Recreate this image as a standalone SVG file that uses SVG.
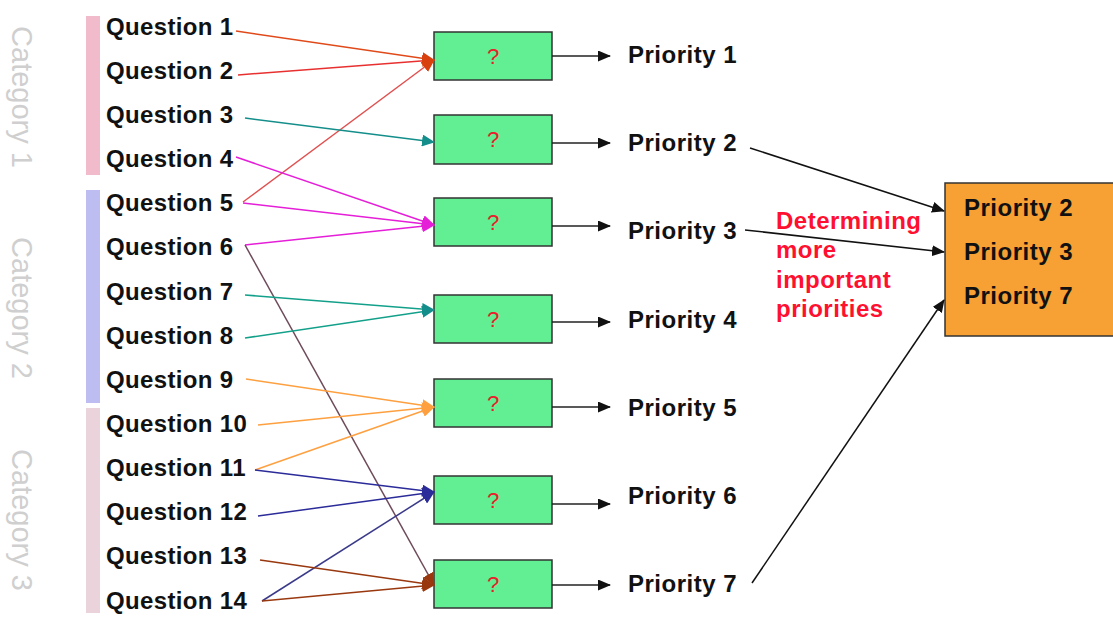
<svg xmlns="http://www.w3.org/2000/svg" width="1113" height="618" viewBox="0 0 1113 618">
<style>
.q{font-family:"Liberation Sans",Arial,sans-serif;font-size:24px;font-weight:bold;fill:#111;letter-spacing:0.35px}
.p{font-family:"Liberation Sans",Arial,sans-serif;font-size:24px;font-weight:bold;fill:#111;letter-spacing:0.5px}
.cat{font-family:"Liberation Sans",Arial,sans-serif;font-size:29px;fill:#cfcfcf}
.box{fill:#62EE93;stroke:#333;stroke-width:1.5}
.qm{font-family:"Liberation Sans",Arial,sans-serif;font-size:22px;fill:#e8202a;text-anchor:middle}
.red{font-family:"Liberation Sans",Arial,sans-serif;font-size:24px;font-weight:bold;fill:#ff1030;letter-spacing:0.5px}
.c{fill:none;stroke-width:1.5}
</style>
<defs>
<marker id="mR" markerWidth="13" markerHeight="12" refX="12" refY="6" orient="auto" markerUnits="userSpaceOnUse"><path d="M0,0 L13,6 L0,12 z" fill="#D8400F"/></marker>
<marker id="mT" markerWidth="13" markerHeight="12" refX="12" refY="6" orient="auto" markerUnits="userSpaceOnUse"><path d="M0,0 L13,6 L0,12 z" fill="#138E8A"/></marker>
<marker id="mM" markerWidth="13" markerHeight="12" refX="12" refY="6" orient="auto" markerUnits="userSpaceOnUse"><path d="M0,0 L13,6 L0,12 z" fill="#E51ED8"/></marker>
<marker id="mO" markerWidth="13" markerHeight="12" refX="12" refY="6" orient="auto" markerUnits="userSpaceOnUse"><path d="M0,0 L13,6 L0,12 z" fill="#FFA040"/></marker>
<marker id="mB" markerWidth="13" markerHeight="12" refX="12" refY="6" orient="auto" markerUnits="userSpaceOnUse"><path d="M0,0 L13,6 L0,12 z" fill="#2B2B9A"/></marker>
<marker id="mBr" markerWidth="13" markerHeight="12" refX="12" refY="6" orient="auto" markerUnits="userSpaceOnUse"><path d="M0,0 L13,6 L0,12 z" fill="#99380F"/></marker>
<marker id="mK" markerWidth="13" markerHeight="11" refX="12" refY="5.5" orient="auto" markerUnits="userSpaceOnUse"><path d="M0,0 L13,5.5 L0,11 z" fill="#111"/></marker>
</defs>
<rect width="1113" height="618" fill="#fff"/>

<g id="categories">
<rect x="86" y="16" width="14" height="159" fill="#F2BBCB"/>
<rect x="86" y="190" width="14" height="213" fill="#BDBDF2"/>
<rect x="86" y="408" width="14" height="205" fill="#EAD3DA"/>
<text class="cat" transform="translate(12,97) rotate(90)" text-anchor="middle">Category 1</text>
<text class="cat" transform="translate(12,308) rotate(90)" text-anchor="middle">Category 2</text>
<text class="cat" transform="translate(12,520) rotate(90)" text-anchor="middle">Category 3</text>
</g>

<g id="questions">
<text class="q" x="106" y="35">Question 1</text>
<text class="q" x="106" y="79">Question 2</text>
<text class="q" x="106" y="123">Question 3</text>
<text class="q" x="106" y="167">Question 4</text>
<text class="q" x="106" y="211">Question 5</text>
<text class="q" x="106" y="255">Question 6</text>
<text class="q" x="106" y="300">Question 7</text>
<text class="q" x="106" y="344">Question 8</text>
<text class="q" x="106" y="388">Question 9</text>
<text class="q" x="106" y="432">Question 10</text>
<text class="q" x="106" y="476">Question 11</text>
<text class="q" x="106" y="520">Question 12</text>
<text class="q" x="106" y="564">Question 13</text>
<text class="q" x="106" y="609">Question 14</text>
</g>

<g id="box1"><rect class="box" x="434" y="32" width="118" height="48"/><text class="qm" x="493" y="64">?</text></g>
<g id="box2"><rect class="box" x="434" y="115" width="118" height="49"/><text class="qm" x="493" y="147">?</text></g>
<g id="box3"><rect class="box" x="434" y="198" width="118" height="48"/><text class="qm" x="493" y="230">?</text></g>
<g id="box4"><rect class="box" x="434" y="295" width="118" height="48"/><text class="qm" x="493" y="327">?</text></g>
<g id="box5"><rect class="box" x="434" y="379" width="118" height="48"/><text class="qm" x="493" y="411">?</text></g>
<g id="box6"><rect class="box" x="434" y="476" width="118" height="48"/><text class="qm" x="493" y="508">?</text></g>
<g id="box7"><rect class="box" x="434" y="560" width="118" height="48"/><text class="qm" x="493" y="592">?</text></g>

<g id="priorities">
<text class="p" x="628" y="63">Priority 1</text>
<text class="p" x="628" y="151">Priority 2</text>
<text class="p" x="628" y="239">Priority 3</text>
<text class="p" x="628" y="328">Priority 4</text>
<text class="p" x="628" y="416">Priority 5</text>
<text class="p" x="628" y="504">Priority 6</text>
<text class="p" x="628" y="592">Priority 7</text>
</g>

<g id="result">
<rect x="945" y="183" width="170" height="153" fill="#F7A033" stroke="#333" stroke-width="1.5"/>
<text class="p" x="964" y="216">Priority 2</text>
<text class="p" x="964" y="260">Priority 3</text>
<text class="p" x="964" y="304">Priority 7</text>
</g>

<g id="note">
<text class="red" x="776" y="229">Determining</text>
<text class="red" x="776" y="258">more</text>
<text class="red" x="776" y="288">important</text>
<text class="red" x="776" y="317">priorities</text>
</g>

<g id="connectors">
<line class="c" stroke="#E04A1A" x1="236" y1="31" x2="434" y2="60" marker-end="url(#mR)"/>
<line class="c" stroke="#E83030" x1="238" y1="75" x2="434" y2="60" marker-end="url(#mR)"/>
<line class="c" stroke="#E05050" x1="243" y1="202" x2="434" y2="60" marker-end="url(#mR)"/>
<line class="c" stroke="#138E8A" x1="245" y1="118" x2="434" y2="142" marker-end="url(#mT)"/>
<line class="c" stroke="#E51ED8" x1="236" y1="157" x2="434" y2="225" marker-end="url(#mM)"/>
<line class="c" stroke="#E51ED8" x1="243" y1="203" x2="434" y2="225" marker-end="url(#mM)"/>
<line class="c" stroke="#E51ED8" x1="245" y1="245" x2="434" y2="225" marker-end="url(#mM)"/>
<line class="c" stroke="#6E4A5A" x1="245" y1="245" x2="434" y2="585" marker-end="url(#mBr)"/>
<line class="c" stroke="#13A08A" x1="245" y1="295" x2="434" y2="310" marker-end="url(#mT)"/>
<line class="c" stroke="#13A08A" x1="245" y1="338" x2="434" y2="310" marker-end="url(#mT)"/>
<line class="c" stroke="#FFA040" x1="246" y1="379" x2="434" y2="407" marker-end="url(#mO)"/>
<line class="c" stroke="#FFA040" x1="258" y1="425" x2="434" y2="407" marker-end="url(#mO)"/>
<line class="c" stroke="#FFA040" x1="255" y1="470" x2="434" y2="407" marker-end="url(#mO)"/>
<line class="c" stroke="#2B2B9A" x1="255" y1="470" x2="434" y2="492" marker-end="url(#mB)"/>
<line class="c" stroke="#2B2B9A" x1="258" y1="516" x2="434" y2="492" marker-end="url(#mB)"/>
<line class="c" stroke="#3A3A8A" x1="262" y1="601" x2="434" y2="492" marker-end="url(#mB)"/>
<line class="c" stroke="#99380F" x1="260" y1="560" x2="434" y2="585" marker-end="url(#mBr)"/>
<line class="c" stroke="#99380F" x1="262" y1="601" x2="434" y2="585" marker-end="url(#mBr)"/>
<line class="c" stroke="#222" x1="552" y1="56" x2="610" y2="56" marker-end="url(#mK)"/>
<line class="c" stroke="#222" x1="552" y1="143" x2="610" y2="143" marker-end="url(#mK)"/>
<line class="c" stroke="#222" x1="552" y1="226" x2="610" y2="226" marker-end="url(#mK)"/>
<line class="c" stroke="#222" x1="552" y1="322" x2="610" y2="322" marker-end="url(#mK)"/>
<line class="c" stroke="#222" x1="552" y1="407" x2="610" y2="407" marker-end="url(#mK)"/>
<line class="c" stroke="#222" x1="552" y1="504" x2="610" y2="504" marker-end="url(#mK)"/>
<line class="c" stroke="#222" x1="552" y1="585" x2="610" y2="585" marker-end="url(#mK)"/>
<line class="c" stroke="#111" x1="750" y1="148" x2="944" y2="211" marker-end="url(#mK)"/>
<line class="c" stroke="#111" x1="745" y1="230" x2="944" y2="252" marker-end="url(#mK)"/>
<line class="c" stroke="#111" x1="752" y1="583" x2="944" y2="300" marker-end="url(#mK)"/>
</g>
</svg>
